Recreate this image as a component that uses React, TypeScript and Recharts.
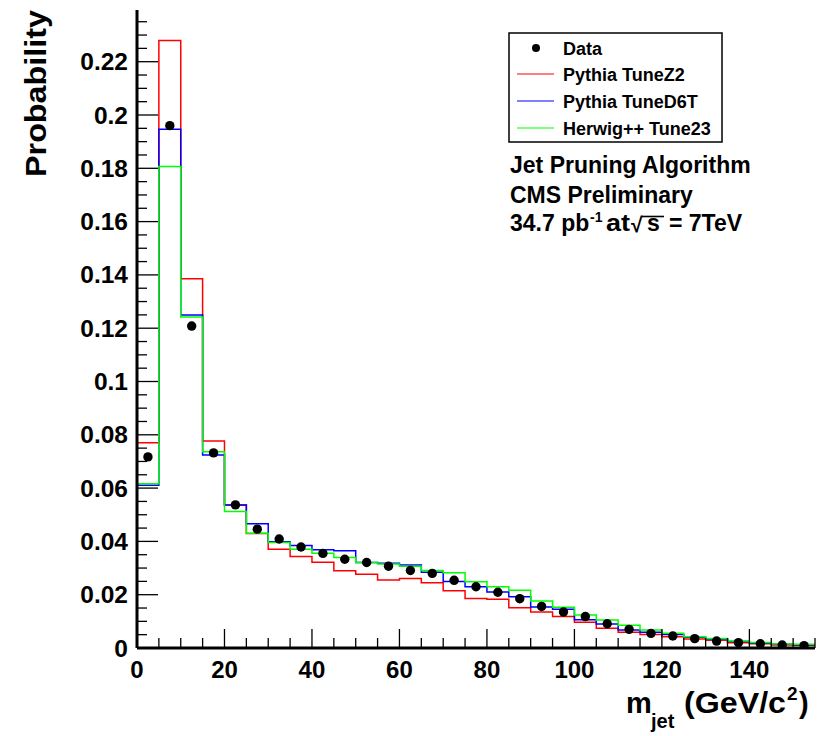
import React from 'react';
import { ComposedChart, Line, XAxis, YAxis } from 'recharts';

// ---------- data ----------
const binWidth = 5;
const binEdges = [0, 5, 10, 15, 20, 25, 30, 35, 40, 45, 50, 55, 60, 65, 70, 75, 80, 85, 90, 95, 100, 105, 110, 115, 120, 125, 130, 135, 140, 145, 150];
const xMax = 155;

const pythiaZ2 = [0.0770, 0.2280, 0.1386, 0.0777, 0.0537, 0.0430, 0.0371, 0.0343, 0.0322, 0.0290, 0.0277, 0.0255, 0.0261, 0.0245, 0.0215, 0.0186, 0.0183, 0.0151, 0.0135, 0.0118, 0.0097, 0.0074, 0.0059, 0.0051, 0.0042, 0.0034, 0.0029, 0.0020, 0.0016, 0.0011, 0.0010];
const pythiaD6T = [0.0611, 0.1947, 0.1250, 0.0724, 0.0537, 0.0466, 0.0399, 0.0385, 0.0369, 0.0365, 0.0321, 0.0318, 0.0311, 0.0284, 0.0250, 0.0230, 0.0210, 0.0192, 0.0154, 0.0145, 0.0106, 0.0090, 0.0068, 0.0059, 0.0051, 0.0040, 0.0034, 0.0024, 0.0019, 0.0014, 0.0012];
const herwig23 = [0.0616, 0.1807, 0.1242, 0.0736, 0.0512, 0.0431, 0.0396, 0.0371, 0.0356, 0.0340, 0.0321, 0.0315, 0.0307, 0.0291, 0.0282, 0.0249, 0.0230, 0.0217, 0.0176, 0.0153, 0.0124, 0.0105, 0.0085, 0.0068, 0.0055, 0.0042, 0.0036, 0.0026, 0.0021, 0.0015, 0.0014];
const dataValues = [0.0717, 0.1960, 0.1208, 0.0732, 0.0537, 0.0446, 0.0409, 0.0379, 0.0355, 0.0333, 0.0321, 0.0307, 0.0291, 0.0280, 0.0254, 0.0230, 0.0209, 0.0185, 0.0156, 0.0135, 0.0118, 0.0091, 0.0070, 0.0055, 0.0045, 0.0035, 0.0026, 0.0020, 0.0016, 0.0011, 0.0009];

const xTickLabels = [0, 20, 40, 60, 80, 100, 120, 140];
const yTickLabels = [0, 0.02, 0.04, 0.06, 0.08, 0.1, 0.12, 0.14, 0.16, 0.18, 0.2, 0.22];
const yMax = 0.2394;

const legendLabels = ['Data', 'Pythia TuneZ2', 'Pythia TuneD6T', 'Herwig++ Tune23'];
const seriesColors = ['#000000', '#ff0000', '#0000ff', '#00ff00'];

// ---------- derived tables ----------
const histRows = [...binEdges, xMax].map((x, i) => {
  const j = Math.min(i, binEdges.length - 1);
  return { x, z2: pythiaZ2[j], d6t: pythiaD6T[j], h23: herwig23[j] };
});
const dataRows = binEdges.map((e, i) => ({ x: e + binWidth / 2, y: dataValues[i] }));

const xAllTicks = Array.from({ length: 32 }, (_, i) => i * 5);
const yAllTicks = Array.from({ length: 48 }, (_, i) => +(i * 0.005).toFixed(3));

const FONT = '"Liberation Sans", Arial, Helvetica, sans-serif';
const isMajorX = (v: number) => xTickLabels.includes(v);
const isMajorY = (v: number) => yTickLabels.some((t) => Math.abs(t - v) < 1e-6);
const fmtY = (v: number) => String(Math.round(v * 100) / 100);

const BottomTick = (props: any) => {
  const { x, y, payload } = props;
  const major = isMajorX(payload.value);
  return (
    <g>
      <line x1={x} x2={x} y1={y} y2={y - (major ? 19 : 10)} stroke="#000" strokeWidth={1.3} />
      {major && (
        <text x={x} y={y + 30} textAnchor="middle" fontSize={24} fontWeight="bold" fontFamily={FONT} fill="#000">
          {payload.value}
        </text>
      )}
    </g>
  );
};

const TopTick = (props: any) => {
  const { x, y, payload } = props;
  const major = isMajorX(payload.value);
  return <line x1={x} x2={x} y1={y} y2={y + (major ? 19 : 10)} stroke="#000" strokeWidth={1.3} />;
};

const LeftTick = (props: any) => {
  const { x, y, payload } = props;
  const major = isMajorY(payload.value);
  return (
    <g>
      <line x1={x} x2={x + (major ? 21 : 10)} y1={y} y2={y} stroke="#000" strokeWidth={1.3} />
      {major && (
        <text x={x - 9} y={y + 8.5} textAnchor="end" fontSize={24.5} fontWeight="bold" fontFamily={FONT} fill="#000">
          {fmtY(payload.value)}
        </text>
      )}
    </g>
  );
};

const RightTick = (props: any) => {
  const { x, y, payload } = props;
  const major = isMajorY(payload.value);
  return <line x1={x} x2={x - (major ? 21 : 10)} y1={y} y2={y} stroke="#000" strokeWidth={1.3} />;
};

const axisLine = { stroke: '#000', strokeWidth: 3 };

export default function App() {
  const legendRowsY = [48, 74, 101, 128];
  return (
    <div style={{ position: 'absolute', left: 0, top: 0, width: 818, height: 736, background: '#fff' }}>
      <ComposedChart
        width={818}
        height={736}
        data={histRows}
        margin={{ top: 10, right: 3, bottom: 48, left: 0 }}
      >
        <XAxis
          xAxisId="main"
          dataKey="x"
          type="number"
          domain={[0, xMax]}
          allowDataOverflow
          ticks={xAllTicks}
          interval={0}
          height={40}
          tickSize={0}
          tickMargin={0}
          tickLine={false}
          axisLine={axisLine}
          tick={BottomTick}
        />
        <XAxis
          xAxisId="top"
          orientation="top"
          dataKey="x"
          type="number"
          domain={[0, xMax]}
          allowDataOverflow
          ticks={xAllTicks}
          interval={0}
          height={0}
          tickSize={0}
          tickMargin={0}
          tickLine={false}
          axisLine={axisLine}
          tick={TopTick}
        />
        <YAxis
          yAxisId="left"
          type="number"
          domain={[0, yMax]}
          allowDataOverflow
          ticks={yAllTicks}
          interval={0}
          width={137}
          tickSize={0}
          tickMargin={0}
          tickLine={false}
          axisLine={axisLine}
          tick={LeftTick}
        />
        <YAxis
          yAxisId="right"
          orientation="right"
          type="number"
          domain={[0, yMax]}
          allowDataOverflow
          ticks={yAllTicks}
          interval={0}
          width={0}
          tickSize={0}
          tickMargin={0}
          tickLine={false}
          axisLine={axisLine}
          tick={RightTick}
        />
        <Line xAxisId="main" yAxisId="left" type="stepAfter" dataKey="z2" stroke={seriesColors[1]} strokeWidth={1.5} dot={false} activeDot={false} isAnimationActive={false} />
        <Line xAxisId="main" yAxisId="left" type="stepAfter" dataKey="d6t" stroke={seriesColors[2]} strokeWidth={1.5} dot={false} activeDot={false} isAnimationActive={false} />
        <Line xAxisId="main" yAxisId="left" type="stepAfter" dataKey="h23" stroke={seriesColors[3]} strokeWidth={1.5} dot={false} activeDot={false} isAnimationActive={false} />
        <Line
          xAxisId="main"
          yAxisId="left"
          data={dataRows}
          dataKey="y"
          stroke="none"
          strokeWidth={0}
          dot={{ r: 4.7, fill: '#000', stroke: '#000', strokeWidth: 0 }}
          activeDot={false}
          isAnimationActive={false}
        />
      </ComposedChart>

      <svg width={818} height={736} style={{ position: 'absolute', left: 0, top: 0, pointerEvents: 'none' }}>
        {/* legend */}
        <rect x={509} y={33} width={213} height={109} fill="#fff" stroke="#000" strokeWidth={1.5} />
        <circle cx={536} cy={legendRowsY[0]} r={4} fill={seriesColors[0]} />
        {[1, 2, 3].map((i) => (
          <line key={i} x1={517} x2={554} y1={legendRowsY[i]} y2={legendRowsY[i]} stroke={seriesColors[i]} strokeWidth={1.2} />
        ))}
        {legendLabels.map((t, i) => (
          <text key={t} x={563} y={legendRowsY[i] + 6.5} fontSize={18} fontWeight="bold" fontFamily={FONT} fill="#000">
            {t}
          </text>
        ))}

        {/* annotations */}
        <g fontFamily={FONT} fontWeight="bold" fill="#000">
          <text x={510} y={173} fontSize={23}>Jet Pruning Algorithm</text>
          <text x={510} y={202.5} fontSize={23}>CMS Preliminary</text>
          <text x={510} y={231} fontSize={23}>34.7 pb</text>
          <text x={590} y={222} fontSize={14}>-1</text>
          <text x={606} y={231} fontSize={23} textLength={24} lengthAdjust="spacingAndGlyphs">at</text>
          <text x={631} y={232} fontSize={21}>√</text>
          <line x1={642} x2={664} y1={216.5} y2={216.5} stroke="#000" strokeWidth={1.6} />
          <text x={647} y={231} fontSize={23}>s</text>
          <text x={669} y={231} fontSize={23}>= 7TeV</text>

          {/* y title */}
          <text transform="translate(46,177) rotate(-90)" fontSize={29} textLength={167} lengthAdjust="spacingAndGlyphs">Probability</text>

          {/* x title */}
          <text x={626} y={713} fontSize={29}>m</text>
          <text x={651} y={728} fontSize={20}>jet</text>
          <text x={684} y={713} fontSize={29} textLength={102} lengthAdjust="spacingAndGlyphs">(GeV/c</text>
          <text x={787} y={700} fontSize={19}>2</text>
          <text x={799} y={713} fontSize={29}>)</text>
        </g>
      </svg>
    </div>
  );
}
